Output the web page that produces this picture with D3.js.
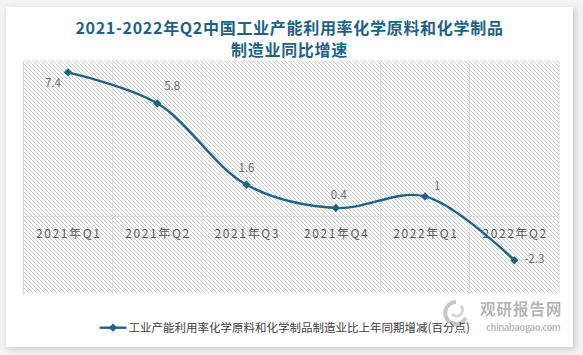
<!DOCTYPE html>
<html>
<head>
<meta charset="utf-8">
<script src="https://cdn.jsdelivr.net/npm/d3@7"></script>
<style>
  html, body { margin: 0; padding: 0; background: #f3f3f3; }
  svg { display: block; }
  text { font-family: "Noto Sans CJK SC", "Noto Sans", sans-serif; }
</style>
</head>
<body>
<svg id="chart" width="583" height="355"></svg>
<script>
// ---- data ----
const categories = ["2021年Q1", "2021年Q2", "2021年Q3", "2021年Q4", "2022年Q1", "2022年Q2"];
const values = [7.4, 5.8, 1.6, 0.4, 1, -2.3];
const valueLabels = ["7.4", "5.8", "1.6", "0.4", "1", "-2.3"];
const seriesName = "工业产能利用率化学原料和化学制品制造业比上年同期增减(百分点)";
const titleLines = ["2021-2022年Q2中国工业产能利用率化学原料和化学制品", "制造业同比增速"];
const yDomain = [-4, 8];
// label placement offsets (dx, dy) relative to each point
const labelOffsets = [[-15, 11], [15, -17], [0, -17], [3, -13.5], [12, -10], [20, -1.5]];

const W = 583, H = 355;
const card = {x: 6, y: 7, w: 567, h: 340};
const plot = {left: 23.3, right: 559, top: 60.7, bottom: 293.3};
const lineColor = "#1c6384";

const svg = d3.select("#chart");
const defs = svg.append("defs");

// shadow filter
const f = defs.append("filter").attr("id", "shadow").attr("x", "-5%").attr("y", "-5%").attr("width", "110%").attr("height", "110%");
f.append("feDropShadow").attr("dx", 2).attr("dy", 2).attr("stdDeviation", 3).attr("flood-color", "#000").attr("flood-opacity", 0.18);

// hatch pattern
const pat = defs.append("pattern").attr("id", "hatch").attr("patternUnits", "userSpaceOnUse")
  .attr("width", 4).attr("height", 4);
pat.append("rect").attr("width", 4).attr("height", 4).attr("fill", "#ffffff");
pat.append("path").attr("d", "M-1,-1 L5,5 M-1,3 L1,5 M3,-1 L5,1")
  .attr("stroke", "#cbcbcb").attr("stroke-width", 1);

svg.append("rect").attr("width", W).attr("height", H).attr("fill", "#f3f3f3");
svg.append("rect").attr("x", card.x).attr("y", card.y).attr("width", card.w).attr("height", card.h)
  .attr("fill", "#ffffff").attr("filter", "url(#shadow)");

// scales
const x = d3.scaleBand().domain(categories).range([plot.left, plot.right]).padding(0);
const y = d3.scaleLinear().domain(yDomain).range([plot.bottom, plot.top]);
const cx = d => x(d) + x.bandwidth() / 2;

// plot background
svg.append("rect").attr("x", plot.left).attr("y", plot.top)
  .attr("width", plot.right - plot.left).attr("height", plot.bottom - plot.top)
  .attr("fill", "url(#hatch)");

// vertical gridlines at band boundaries
const bounds = categories.map(c => x(c)).concat([x(categories[categories.length - 1]) + x.bandwidth()]);
svg.append("g").selectAll("line").data(bounds).join("line")
  .attr("x1", d => d).attr("x2", d => d)
  .attr("y1", plot.top).attr("y2", (d, i) => i === 0 ? plot.bottom + 1.5 : plot.bottom)
  .attr("stroke", (d, i) => i === 0 ? "#d0d0d0" : "#dedede").attr("stroke-width", 1);

// zero axis line
const xAxis = d3.axisBottom(x).tickSize(0).tickFormat("");
svg.append("g").attr("transform", `translate(0,${y(0)})`).call(xAxis)
  .call(g => g.select(".domain").attr("stroke", "#d4d4d4").attr("stroke-width", 1.2));

// category labels
svg.append("g").selectAll("text").data(categories).join("text")
  .attr("x", d => cx(d) + 0.8).attr("y", y(0) + 22.5)
  .attr("text-anchor", "middle")
  .attr("font-size", 12).attr("letter-spacing", "1.6px")
  .attr("fill", "#5a5a5a").text(d => d);

// line
const pts = categories.map((c, i) => [cx(c), y(values[i])]);
const line = d3.line().curve(d3.curveCatmullRom.alpha(0.5));
svg.append("path").attr("d", line(pts)).attr("fill", "none")
  .attr("stroke", lineColor).attr("stroke-width", 2.4);

// markers
const diamond = d3.symbol().type(d3.symbolDiamond2).size(44);
svg.append("g").selectAll("path").data(pts).join("path")
  .attr("transform", d => `translate(${d[0]},${d[1]})`)
  .attr("d", diamond).attr("fill", lineColor);

// value labels
svg.append("g").selectAll("text").data(pts).join("text")
  .attr("x", (d, i) => d[0] + labelOffsets[i][0])
  .attr("y", (d, i) => d[1] + labelOffsets[i][1] + 4)
  .attr("text-anchor", "middle").attr("font-size", 11.5)
  .attr("fill", "#6b6b6b").text((d, i) => valueLabels[i]);

// title
svg.append("g").selectAll("text").data(titleLines).join("text")
  .attr("x", card.x + card.w / 2).attr("y", (d, i) => 33.5 + i * 22)
  .attr("text-anchor", "middle").attr("font-size", 16).attr("font-weight", "bold")
  .attr("letter-spacing", "0.7px")
  .attr("fill", "#1d6285").text(d => d);

// watermark
const wm = svg.append("g").attr("opacity", 0.55);
wm.append("path").attr("d", "M456,302 A11,11 0 1,0 466,318").attr("fill", "none").attr("stroke", "#9a9a9a").attr("stroke-width", 4);
wm.append("path").attr("d", "M461,306 A6,6 0 1,1 452,314").attr("fill", "none").attr("stroke", "#b5b5b5").attr("stroke-width", 3);
wm.append("text").attr("x", 480).attr("y", 315).attr("font-size", 15.5).attr("font-weight", "bold")
  .attr("fill", "#7a7a7a").attr("letter-spacing", "1px").text("观研报告网");
wm.append("text").attr("x", 486).attr("y", 330.5).attr("font-size", 9.5).attr("font-weight", "bold")
  .attr("fill", "#8a8a8a").attr("font-family", "DejaVu Sans").attr("textLength", 75).text("chinabaogao.com");

// legend
const lg = svg.append("g");
lg.append("line").attr("x1", 99.5).attr("x2", 126.5).attr("y1", 327.7).attr("y2", 327.7)
  .attr("stroke", lineColor).attr("stroke-width", 2.4);
lg.append("path").attr("transform", "translate(113,327.7)").attr("d", diamond).attr("fill", lineColor);
lg.append("text").attr("x", 128.5).attr("y", 332).attr("font-size", 11.5)
  .attr("fill", "#404040").text(seriesName);
</script>
</body>
</html>
